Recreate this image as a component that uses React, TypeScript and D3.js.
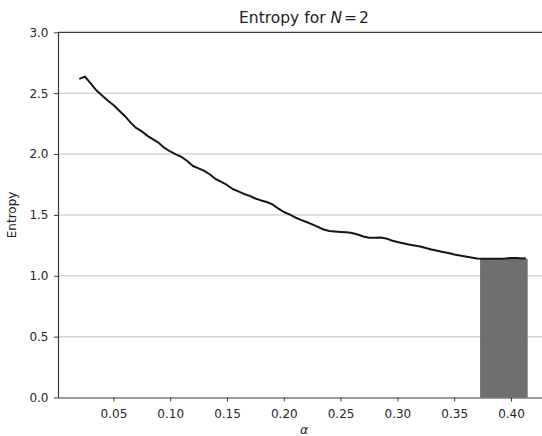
import React, { useEffect, useRef } from 'react'
import * as d3 from 'd3'

// alpha values and the entropy measured at each one
const alphas = [
  0.020, 0.025, 0.030, 0.035, 0.040, 0.045, 0.050, 0.055, 0.060, 0.065,
  0.070, 0.075, 0.080, 0.085, 0.090, 0.095, 0.100, 0.105, 0.110, 0.115,
  0.120, 0.125, 0.130, 0.135, 0.140, 0.145, 0.150, 0.155, 0.160, 0.165,
  0.170, 0.175, 0.180, 0.185, 0.190, 0.195, 0.200, 0.205, 0.210, 0.215,
  0.220, 0.225, 0.230, 0.235, 0.240, 0.245, 0.250, 0.255, 0.260, 0.265,
  0.270, 0.275, 0.280, 0.285, 0.290, 0.295, 0.300, 0.305, 0.310, 0.315,
  0.320, 0.325, 0.330, 0.335, 0.340, 0.345, 0.350, 0.355, 0.360, 0.365,
  0.370, 0.375, 0.380, 0.385, 0.390, 0.395, 0.400, 0.405, 0.410, 0.413,
]
const entropy = [
  2.617, 2.636, 2.580, 2.523, 2.481, 2.440, 2.403, 2.358, 2.313, 2.260,
  2.214, 2.186, 2.149, 2.120, 2.091, 2.050, 2.021, 1.997, 1.976, 1.943,
  1.902, 1.882, 1.861, 1.832, 1.795, 1.771, 1.746, 1.713, 1.693, 1.672,
  1.656, 1.635, 1.619, 1.606, 1.586, 1.553, 1.524, 1.504, 1.479, 1.459,
  1.442, 1.422, 1.401, 1.380, 1.368, 1.364, 1.360, 1.357, 1.352, 1.339,
  1.323, 1.313, 1.313, 1.315, 1.307, 1.290, 1.278, 1.267, 1.257, 1.249,
  1.241, 1.228, 1.216, 1.206, 1.196, 1.187, 1.175, 1.167, 1.159, 1.150,
  1.142, 1.140, 1.139, 1.139, 1.140, 1.142, 1.146, 1.146, 1.142, 1.144,
]

// shaded region of minimum entropy
const bandStart = 0.3728
const bandEnd = 0.4147
const bandValue = 1.14

const xTicks = [0.05, 0.10, 0.15, 0.20, 0.25, 0.30, 0.35, 0.40]
const yTicks = [0.0, 0.5, 1.0, 1.5, 2.0, 2.5, 3.0]

function App() {
  const svgRef = useRef<SVGSVGElement>(null)

  const width = 542
  const height = 436
  const left = 58
  const right = 550
  const top = 32.3
  const bottom = 397.5
  const font = 'DejaVu Sans'

  useEffect(() => {
    document.body.style.margin = '0'
    const svg = d3.select(svgRef.current)
    svg.selectAll('*').remove()

    const data = alphas.map((a, i) => ({ a, e: entropy[i] }))

    const x = d3.scaleLinear()
      .domain([0.00123, 0.43434])
      .range([left, right])

    const y = d3.scaleLinear()
      .domain([0, 3])
      .range([bottom, top])

    // grid
    svg.append('g')
      .selectAll('line')
      .data(yTicks.filter(t => t > 0 && t < 3))
      .enter().append('line')
      .attr('x1', left)
      .attr('x2', right)
      .attr('y1', d => y(d))
      .attr('y2', d => y(d))
      .style('stroke', '#d6d6d6')
      .style('stroke-width', 1.5)

    svg.append('rect')
      .attr('x', x(bandStart))
      .attr('y', y(bandValue))
      .attr('width', x(bandEnd) - x(bandStart))
      .attr('height', y(0) - y(bandValue))
      .style('fill', '#6f6f6f')

    const line = d3.line<{ a: number, e: number }>()
      .x(d => x(d.a))
      .y(d => y(d.e))

    svg.append('path')
      .datum(data)
      .attr('d', line)
      .style('fill', 'none')
      .style('stroke', '#151515')
      .style('stroke-width', 2)
      .style('stroke-linejoin', 'round')

    const xAxis = svg.append('g')
      .attr('transform', `translate(0,${bottom})`)
      .call(d3.axisBottom(x).tickValues(xTicks).tickFormat(d3.format('.2f')).tickSize(4).tickSizeOuter(0))
    const yAxis = svg.append('g')
      .attr('transform', `translate(${left},0)`)
      .call(d3.axisLeft(y).tickValues(yTicks).tickFormat(d3.format('.1f')).tickSize(4).tickSizeOuter(0))

    for (const ax of [xAxis, yAxis]) {
      ax.selectAll('path').style('stroke', '#3a3a3a').style('stroke-width', 1.2)
      ax.selectAll('line').style('stroke', '#3a3a3a').style('stroke-width', 1)
      ax.selectAll('text')
        .style('font-family', font)
        .style('font-size', '12px')
        .style('fill', '#262626')
    }
    xAxis.selectAll('text').attr('dy', '1.15em')
    yAxis.selectAll('text').attr('x', -9.5)

    // top spine
    svg.append('line')
      .attr('x1', left)
      .attr('x2', right)
      .attr('y1', top)
      .attr('y2', top)
      .style('stroke', '#3a3a3a')
      .style('stroke-width', 1.2)

    const title = svg.append('text')
      .attr('x', (left + right) / 2)
      .attr('y', 23)
      .attr('text-anchor', 'middle')
      .style('font-family', font)
      .style('font-size', '15.5px')
      .style('fill', '#222')
    title.append('tspan').text('Entropy for ')
    title.append('tspan').style('font-style', 'italic').text('N')
    title.append('tspan').attr('dx', 2).text('=')
    title.append('tspan').attr('dx', 2).text('2')

    svg.append('text')
      .attr('transform', `translate(16,${(top + bottom) / 2}) rotate(-90)`)
      .attr('text-anchor', 'middle')
      .style('font-family', font)
      .style('font-size', '12px')
      .style('fill', '#222')
      .text('Entropy')

    svg.append('text')
      .attr('x', (left + right) / 2)
      .attr('y', 434)
      .attr('text-anchor', 'middle')
      .style('font-family', font)
      .style('font-size', '12.5px')
      .style('font-style', 'italic')
      .style('fill', '#222')
      .text('α')
  }, [])

  return (
    <svg ref={svgRef} width={width} height={height} style={{ display: 'block', background: '#fff' }} />
  )
}

export default App
